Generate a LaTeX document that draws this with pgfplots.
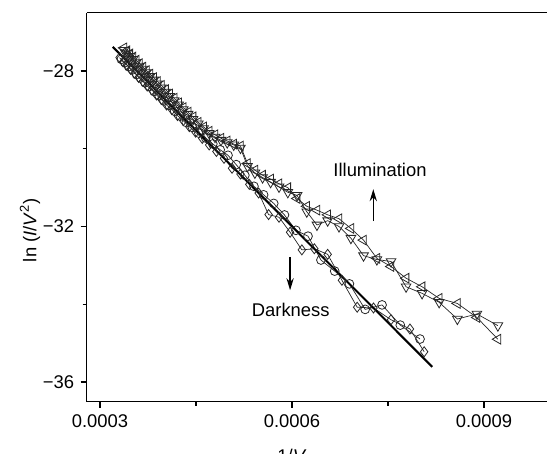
\documentclass[border=0pt]{standalone}
\usepackage{fontspec}
\setmainfont{Liberation Sans}
\usepackage{pgfplots}
\pgfplotsset{compat=1.18}
\usepackage{pgfplotstable}
\usetikzlibrary{arrows.meta}

% 1/V , ln(I/V^2)  -- darkness, circles
\pgfplotstableread{
x y
0.0003333 -27.699
0.0003390 -27.783
0.0003448 -27.889
0.0003509 -27.970
0.0003571 -28.092
0.0003636 -28.179
0.0003704 -28.301
0.0003774 -28.397
0.0003846 -28.525
0.0003922 -28.631
0.0004000 -28.769
0.0004082 -28.884
0.0004167 -29.035
0.0004255 -29.160
0.0004348 -29.323
0.0004444 -29.451
0.0004545 -29.598
0.0004651 -29.723
0.0004762 -29.876
0.0004878 -30.027
0.0005000 -30.168
0.0005128 -30.409
0.0005263 -30.682
0.0005405 -30.966
0.0005556 -31.185
0.0005714 -31.406
0.0005882 -31.703
0.0006061 -32.098
0.0006250 -32.249
0.0006452 -32.862
0.0006667 -33.147
0.0006897 -33.476
0.0007143 -34.132
0.0007407 -34.017
0.0007692 -34.537
0.0008000 -34.895
}\darkcirc

% darkness, diamonds
\pgfplotstableread{
x y
0.0003306 -27.655
0.0003361 -27.765
0.0003419 -27.841
0.0003478 -27.958
0.0003540 -28.050
0.0003604 -28.166
0.0003670 -28.265
0.0003738 -28.387
0.0003810 -28.486
0.0003883 -28.616
0.0003960 -28.733
0.0004040 -28.875
0.0004124 -28.993
0.0004211 -29.147
0.0004301 -29.275
0.0004396 -29.432
0.0004494 -29.574
0.0004598 -29.735
0.0004706 -29.903
0.0004819 -30.070
0.0004938 -30.246
0.0005063 -30.502
0.0005195 -30.650
0.0005333 -30.917
0.0005479 -31.138
0.0005634 -31.694
0.0005797 -31.762
0.0005970 -32.148
0.0006154 -32.601
0.0006349 -32.573
0.0006557 -32.716
0.0006780 -33.383
0.0007018 -34.076
0.0007273 -34.096
0.0007547 -34.398
0.0007843 -34.636
0.0008065 -35.222
}\darkdiam

% illumination: x, left triangles, down triangles
\pgfplotstableread{
x yl yd
0.00033727 -27.405 -27.465
0.00034188 -27.48 -27.54
0.00034662 -27.56 -27.62
0.00035149 -27.64 -27.70
0.00035651 -27.72 -27.78
0.00036166 -27.81 -27.87
0.00036697 -27.90 -27.95
0.00037244 -27.99 -28.04
0.00037807 -28.08 -28.14
0.00038388 -28.17 -28.23
0.00038986 -28.27 -28.33
0.00039604 -28.37 -28.43
0.00040241 -28.48 -28.54
0.00040900 -28.59 -28.65
0.00041580 -28.70 -28.76
0.00042283 -28.82 -28.87
0.00043011 -28.94 -28.99
0.00043764 -29.06 -29.11
0.00044543 -29.18 -29.24
0.00045351 -29.32 -29.36
0.00046189 -29.44 -29.48
0.00047059 -29.55 -29.60
0.00047962 -29.64 -29.70
0.00048900 -29.73 -29.78
0.00049875 -29.80 -29.84
0.00050891 -29.88 -29.90
0.00051948 -29.93 -29.98
0.00053050 -30.38 -30.45
0.00054201 -30.55 -30.62
0.00055402 -30.68 -30.74
0.00056657 -30.78 -30.86
0.00057971 -30.90 -30.98
0.00059347 -31.00 -31.12
0.00060790 -31.28 -31.20
0.00062305 -31.48 -31.62
0.00063898 -31.58 -31.96
0.00065574 -31.70 -31.85
0.00067340 -31.80 -32.00
0.00069204 -32.05 -32.30
0.00071174 -32.35 -32.75
0.00073260 -32.82 -32.85
0.00075472 -33.03 -32.90
0.00077821 -33.33 -33.55
0.00080321 -33.55 -33.72
0.00082988 -33.85 -33.95
0.00085837 -33.98 -34.38
0.00088889 -34.34 -34.25
0.00092166 -34.90 -34.55
}\illum

\begin{document}
\fontsize{9.2}{11}\selectfont
\begin{tikzpicture}
\begin{axis}[
    width=230.15pt, height=194.5pt, scale only axis,
    xmin=0.0002792, xmax=0.0009984,
    ymin=-36.507, ymax=-26.5,
    axis x line*=box, axis y line*=left,
    axis line style={line width=0.6pt},
    tick align=outside,
    xtick pos=left, ytick pos=left,
    major tick length=3pt, minor tick length=2pt,
    tick style={line width=0.6pt, black},
    scaled x ticks=false,
    xtick={0.0003,0.0006,0.0009},
    xticklabels={0.0003,0.0006,0.0009},
    minor xtick={0.00045,0.00075},
    ytick={-28,-32,-36},
    yticklabels={−28,−32,−36},
    minor ytick={-30,-34},
    ticklabel style={font=\fontsize{9.2}{11}\selectfont},
    label style={font=\fontsize{9.2}{11}\selectfont},
    xlabel={1/\textit{V}},
    xlabel style={at={(rel axis cs:0.446,-0.1054)}, anchor=north},
    ylabel={ln (\textit{I}/\textit{V}\textsuperscript{2})},
    ylabel style={at={(rel axis cs:-0.1232,0.441)}, anchor=center},
    clip=false,
]
\coordinate (bl) at (rel axis cs:0,0);
\coordinate (tr) at (rel axis cs:1,1);

\addplot[black!85, line width=0.35pt, mark=o, mark size=2.2pt, mark options={line width=0.4pt}]
    table[x=x, y=y] {\darkcirc};
\addplot[black!85, line width=0.35pt, mark=diamond, mark size=2.5pt, mark options={line width=0.4pt}]
    table[x=x, y=y] {\darkdiam};
\addplot[black!85, line width=0.35pt, mark=triangle, mark size=2.8pt, mark options={line width=0.4pt, rotate=180}]
    table[x=x, y=yd] {\illum};
\addplot[black!85, line width=0.35pt, mark=triangle, mark size=2.8pt, mark options={line width=0.4pt, rotate=90}]
    table[x=x, y=yl] {\illum};

% linear fit of the dark data
\addplot[black, line width=1pt, no marks] coordinates {
    (0.000320, -27.38)
    (0.000819, -35.61)
};

\node at (axis cs:0.0007375,-30.55) {Illumination};
\draw[line width=0.7pt, -{Stealth[length=6pt, width=3.6pt]}]
    (axis cs:0.000727,-31.86) -- (axis cs:0.000727,-31.04);
\node at (axis cs:0.000598,-34.15) {Darkness};
\draw[line width=0.7pt, -{Stealth[length=6pt, width=3.6pt]}]
    (axis cs:0.000597,-32.78) -- (axis cs:0.000597,-33.64);
\end{axis}
\pgfresetboundingbox
\path[use as bounding box] ([xshift=-43.35pt, yshift=-26.15pt]bl) rectangle ([yshift=6.35pt]tr);
\end{tikzpicture}
\end{document}
